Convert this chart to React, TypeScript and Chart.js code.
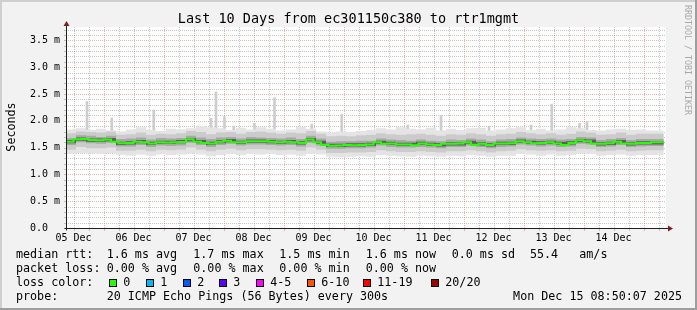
import React, { useEffect, useRef } from 'react';
import { Chart, registerables } from 'chart.js';

Chart.register(...registerables);

// Time axis in hours since 05 Dec 00:00
const START_HOUR = 9;
const END_HOUR = 249;
const DATA_END_HOUR = 248.1;

const dayLabels = ['05 Dec', '06 Dec', '07 Dec', '08 Dec', '09 Dec', '10 Dec', '11 Dec', '12 Dec', '13 Dec', '14 Dec'];
const yTickLabels = ['0.0  ', '0.5 m', '1.0 m', '1.5 m', '2.0 m', '2.5 m', '3.0 m', '3.5 m'];

// median RTT (ms), one value per 3 hours
const medianStepHours = 3;
const medianRtt = [
  1.61, 1.61, 1.655, 1.66, 1.64, 1.635, 1.65, 1.61, 1.58, 1.585,
  1.61, 1.60, 1.575, 1.60, 1.595, 1.60, 1.605, 1.655, 1.61, 1.585,
  1.575, 1.61, 1.63, 1.60, 1.60, 1.62, 1.62, 1.62, 1.61, 1.60,
  1.61, 1.60, 1.585, 1.65, 1.60, 1.55, 1.535, 1.54, 1.55, 1.545,
  1.55, 1.56, 1.60, 1.57, 1.575, 1.56, 1.56, 1.545, 1.575, 1.56,
  1.55, 1.57, 1.57, 1.575, 1.60, 1.55, 1.57, 1.55, 1.575, 1.575,
  1.58, 1.62, 1.60, 1.58, 1.585, 1.60, 1.575, 1.55, 1.585, 1.635,
  1.62, 1.57, 1.57, 1.58, 1.61, 1.575, 1.57, 1.585, 1.585, 1.60,
];

// smoke bands (ms), one value per 4 hours
const smokeStepHours = 4;
const smokeOuterHi = [
  1.80, 1.84, 1.86, 1.83, 1.85, 1.82, 1.80, 1.84, 1.88, 1.83,
  1.81, 1.85, 1.84, 1.86, 1.90, 1.88, 1.86, 1.83, 1.87, 1.84,
  1.88, 1.85, 1.82, 1.84, 1.89, 1.85, 1.80, 1.78, 1.80, 1.79,
  1.81, 1.83, 1.86, 1.84, 1.88, 1.85, 1.84, 1.87, 1.82, 1.85,
  1.83, 1.86, 1.87, 1.82, 1.84, 1.86, 1.88, 1.83, 1.85, 1.82,
  1.84, 1.88, 1.86, 1.83, 1.82, 1.84, 1.85, 1.83, 1.84, 1.82,
];
const smokeOuterLo = [
  1.39, 1.38, 1.40, 1.39, 1.38, 1.40, 1.36, 1.35, 1.37, 1.35,
  1.37, 1.36, 1.37, 1.39, 1.37, 1.34, 1.36, 1.38, 1.36, 1.38,
  1.37, 1.38, 1.36, 1.37, 1.35, 1.38, 1.37, 1.33, 1.32, 1.33,
  1.34, 1.33, 1.36, 1.35, 1.34, 1.33, 1.35, 1.34, 1.33, 1.35,
  1.34, 1.36, 1.35, 1.33, 1.35, 1.35, 1.38, 1.37, 1.35, 1.37,
  1.35, 1.36, 1.39, 1.38, 1.35, 1.36, 1.37, 1.35, 1.36, 1.36,
];
const smokeMidHi = [
  1.76, 1.77, 1.80, 1.79, 1.78, 1.80, 1.74, 1.75, 1.78, 1.74,
  1.76, 1.75, 1.77, 1.81, 1.79, 1.75, 1.78, 1.79, 1.76, 1.79,
  1.80, 1.78, 1.76, 1.78, 1.77, 1.81, 1.76, 1.71, 1.72, 1.71,
  1.73, 1.74, 1.77, 1.75, 1.74, 1.75, 1.76, 1.74, 1.72, 1.75,
  1.74, 1.77, 1.75, 1.72, 1.75, 1.76, 1.79, 1.77, 1.75, 1.77,
  1.74, 1.76, 1.80, 1.78, 1.74, 1.75, 1.78, 1.74, 1.76, 1.76,
];
const smokeMidLo = [
  1.47, 1.46, 1.51, 1.49, 1.49, 1.50, 1.44, 1.44, 1.46, 1.43,
  1.46, 1.45, 1.46, 1.50, 1.46, 1.43, 1.46, 1.48, 1.45, 1.47,
  1.47, 1.46, 1.45, 1.46, 1.44, 1.50, 1.46, 1.40, 1.40, 1.41,
  1.41, 1.42, 1.45, 1.43, 1.42, 1.42, 1.43, 1.42, 1.41, 1.43,
  1.43, 1.45, 1.43, 1.41, 1.43, 1.44, 1.47, 1.45, 1.44, 1.45,
  1.43, 1.44, 1.48, 1.47, 1.43, 1.44, 1.46, 1.43, 1.44, 1.45,
];
const smokeInnerHi = [
  1.69, 1.68, 1.73, 1.72, 1.70, 1.72, 1.66, 1.67, 1.69, 1.65,
  1.68, 1.67, 1.68, 1.72, 1.69, 1.66, 1.69, 1.70, 1.67, 1.70,
  1.69, 1.68, 1.67, 1.69, 1.66, 1.72, 1.67, 1.61, 1.62, 1.62,
  1.63, 1.63, 1.67, 1.65, 1.64, 1.63, 1.65, 1.63, 1.62, 1.65,
  1.64, 1.67, 1.65, 1.62, 1.65, 1.66, 1.69, 1.67, 1.66, 1.67,
  1.65, 1.66, 1.70, 1.69, 1.64, 1.66, 1.68, 1.64, 1.66, 1.66,
];
const smokeInnerLo = [
  1.55, 1.55, 1.60, 1.58, 1.57, 1.59, 1.52, 1.52, 1.55, 1.51,
  1.54, 1.53, 1.54, 1.59, 1.55, 1.51, 1.55, 1.57, 1.54, 1.56,
  1.56, 1.55, 1.54, 1.55, 1.52, 1.59, 1.54, 1.48, 1.48, 1.49,
  1.49, 1.50, 1.54, 1.51, 1.50, 1.50, 1.51, 1.50, 1.49, 1.51,
  1.51, 1.54, 1.51, 1.49, 1.51, 1.52, 1.56, 1.54, 1.52, 1.54,
  1.51, 1.52, 1.57, 1.56, 1.51, 1.52, 1.55, 1.51, 1.52, 1.53,
];
const smokeCoreHi = [
  1.64, 1.64, 1.69, 1.67, 1.67, 1.68, 1.61, 1.62, 1.64, 1.61,
  1.63, 1.63, 1.64, 1.68, 1.64, 1.61, 1.64, 1.66, 1.63, 1.65,
  1.65, 1.64, 1.63, 1.64, 1.62, 1.68, 1.63, 1.57, 1.57, 1.58,
  1.58, 1.59, 1.63, 1.61, 1.59, 1.59, 1.61, 1.59, 1.58, 1.60,
  1.60, 1.63, 1.60, 1.58, 1.61, 1.61, 1.65, 1.63, 1.62, 1.63,
  1.61, 1.62, 1.66, 1.65, 1.60, 1.61, 1.64, 1.60, 1.62, 1.62,
];
const smokeCoreLo = [
  1.58, 1.58, 1.63, 1.61, 1.61, 1.62, 1.55, 1.56, 1.58, 1.55,
  1.57, 1.57, 1.58, 1.62, 1.58, 1.55, 1.58, 1.60, 1.57, 1.59,
  1.59, 1.58, 1.57, 1.58, 1.56, 1.62, 1.57, 1.51, 1.51, 1.52,
  1.52, 1.53, 1.57, 1.55, 1.53, 1.53, 1.55, 1.53, 1.52, 1.54,
  1.54, 1.57, 1.54, 1.52, 1.55, 1.55, 1.59, 1.57, 1.56, 1.57,
  1.55, 1.56, 1.60, 1.59, 1.54, 1.55, 1.58, 1.54, 1.56, 1.56,
];

// outlier pings (hour, ms)
const spikeHours = [17.4, 27.3, 44.1, 67.0, 69.0, 72.4, 76.1, 84.4, 92.4, 107.3, 119.3, 145.7, 159.0, 178.2, 195.0, 203.3, 214.4, 217.4];
const spikeTops = [2.36, 2.05, 2.20, 2.05, 2.54, 2.08, 1.90, 1.95, 2.43, 1.94, 2.12, 1.92, 2.10, 1.90, 1.92, 2.31, 1.95, 1.98];
const SPIKE_BASE = 1.75;

const lossLabels = ['0', '1', '2', '3', '4-5', '6-10', '11-19', '20/20'];
const lossColors = ['#26ff00', '#00b8ff', '#0059ff', '#5e00ff', '#ff00ff', '#ff5500', '#ff0000', '#a10000'];

const TITLE = 'Last 10 Days from ec301150c380 to rtr1mgmt';

// layout constants
const LEGEND_BOX_X = [109, 146, 182.7, 219.3, 256, 307.3, 362.7, 430.7];
const MONO = '"DejaVu Sans Mono", monospace';
const MINOR = 'rgba(143,143,143,0.5)';
const MAJOR = 'rgba(222,79,79,0.42)';

function stepSeries(vals: number[], step: number) {
  const pts = vals.map((v, i) => ({ x: START_HOUR + i * step, y: v }));
  pts.push({ x: DATA_END_HOUR, y: vals[vals.length - 1] });
  return pts;
}

const rrdPlugin = {
  id: 'rrdDecor',
  beforeDraw(chart: any) {
    const { ctx, chartArea: a, width, height } = chart;
    ctx.save();
    ctx.fillStyle = '#f2f2f2';
    ctx.fillRect(0, 0, width, height);
    ctx.fillStyle = '#cfcfcf';
    ctx.fillRect(0, 0, width, 2);
    ctx.fillRect(0, 0, 2, height);
    ctx.fillStyle = '#9e9e9e';
    ctx.fillRect(0, height - 2, width, 2);
    ctx.fillRect(width - 2, 0, 2, height);
    ctx.fillStyle = '#ffffff';
    ctx.fillRect(a.left, a.top, a.right - a.left, a.bottom - a.top);
    ctx.restore();
  },
  beforeDatasetsDraw(chart: any) {
    const { ctx, chartArea: a } = chart;
    const xs = chart.scales.x;
    const ys = chart.scales.y;
    ctx.save();
    ctx.lineWidth = 1;
    xs.ticks.forEach((t: any) => {
      const px = Math.round(xs.getPixelForValue(t.value)) + 0.5;
      ctx.strokeStyle = t.value % 24 === 0 ? MAJOR : MINOR;
      ctx.setLineDash([1, 1]);
      ctx.beginPath();
      ctx.moveTo(px, a.top);
      ctx.lineTo(px, a.bottom);
      ctx.stroke();
      ctx.setLineDash([]);
      ctx.beginPath();
      ctx.moveTo(px, a.bottom);
      ctx.lineTo(px, a.bottom + 3);
      ctx.stroke();
    });
    ys.ticks.forEach((t: any, i: number) => {
      const py = Math.round(ys.getPixelForValue(t.value)) + 0.5;
      ctx.strokeStyle = i % 5 === 0 ? MAJOR : MINOR;
      ctx.setLineDash([1, 1]);
      ctx.beginPath();
      ctx.moveTo(a.left, py);
      ctx.lineTo(a.right, py);
      ctx.stroke();
      ctx.setLineDash([]);
      ctx.beginPath();
      ctx.moveTo(a.left - 2, py);
      ctx.lineTo(a.left, py);
      ctx.stroke();
    });
    ctx.restore();
  },
  afterDraw(chart: any) {
    const { ctx, chartArea: a } = chart;
    ctx.save();
    // axes
    const ax = Math.round(a.left) + 0.5;
    const ay = Math.round(a.bottom) + 0.5;
    ctx.strokeStyle = '#1f1f1f';
    ctx.lineWidth = 1;
    ctx.beginPath();
    ctx.moveTo(ax, ay + 2);
    ctx.lineTo(ax, a.top - 2);
    ctx.moveTo(ax - 2, ay);
    ctx.lineTo(a.right + 3, ay);
    ctx.stroke();
    ctx.fillStyle = '#801f1f';
    ctx.beginPath();
    ctx.moveTo(ax, a.top - 6);
    ctx.lineTo(ax - 3, a.top - 1);
    ctx.lineTo(ax + 3, a.top - 1);
    ctx.closePath();
    ctx.fill();
    ctx.beginPath();
    ctx.moveTo(a.right + 7, ay);
    ctx.lineTo(a.right + 2, ay - 3);
    ctx.lineTo(a.right + 2, ay + 3);
    ctx.closePath();
    ctx.fill();

    // title
    ctx.fillStyle = '#000';
    ctx.textBaseline = 'alphabetic';
    ctx.textAlign = 'center';
    ctx.font = `13.5px ${MONO}`;
    ctx.fillText(TITLE, 348.5, 23);

    // y title
    ctx.font = `11.7px ${MONO}`;
    ctx.save();
    ctx.translate(15, 127);
    ctx.rotate(-Math.PI / 2);
    ctx.fillText('Seconds', 0, 0);
    ctx.restore();

    // watermark
    ctx.save();
    ctx.fillStyle = '#a8a8a8';
    ctx.font = `8.3px ${MONO}`;
    ctx.textAlign = 'left';
    ctx.translate(684.5, 5);
    ctx.rotate(Math.PI / 2);
    ctx.fillText('RRDTOOL / TOBI OETIKER', 0, 0);
    ctx.restore();

    // legend
    ctx.textAlign = 'left';
    ctx.font = `11.7px ${MONO}`;
    const rows: [number, number, string][] = [
      [16, 258, 'median rtt:'], [106.7, 258, '1.6 ms avg'], [193.3, 258, '1.7 ms max'],
      [279.3, 258, '1.5 ms min'], [365.7, 258, '1.6 ms now'], [451.7, 258, '0.0 ms sd'],
      [530, 258, '55.4'], [579.3, 258, 'am/s'],
      [16, 272, 'packet loss:'], [106.7, 272, '0.00 % avg'], [193.3, 272, '0.00 % max'],
      [279.3, 272, '0.00 % min'], [365.7, 272, '0.00 % now'],
      [16, 286, 'loss color:'],
      [16, 300, 'probe:'], [106.7, 300, '20 ICMP Echo Pings (56 Bytes) every 300s'],
    ];
    rows.forEach(([x, y, t]) => ctx.fillText(t, x, y));
    ctx.textAlign = 'right';
    ctx.fillText('Mon Dec 15 08:50:07 2025', 682, 300);
    ctx.textAlign = 'left';
    lossLabels.forEach((lab, i) => {
      const bx = Math.round(LEGEND_BOX_X[i]);
      ctx.fillStyle = lossColors[i];
      ctx.fillRect(bx, 279, 8, 8);
      ctx.strokeStyle = '#000';
      ctx.lineWidth = 1;
      ctx.strokeRect(bx + 0.5, 279.5, 7, 7);
      ctx.fillStyle = '#000';
      ctx.fillText(lab, bx + 14.3, 286);
    });
    ctx.restore();
  },
};

const band = (vals: number[], color: string, target: number | false) => ({
  type: 'line' as const,
  data: stepSeries(vals, smokeStepHours),
  stepped: 'after' as const,
  borderColor: 'rgba(0,0,0,0)',
  borderWidth: 1,
  backgroundColor: color,
  fill: target,
  pointRadius: 0,
});

export default function App() {
  const ref = useRef<HTMLCanvasElement>(null);
  useEffect(() => {
    document.body.style.margin = '0';
    const xTicks: number[] = [];
    for (let h = 12; h < END_HOUR; h += 6) xTicks.push(h);
    const yTicks: number[] = [];
    for (let i = 0; i <= 37; i++) yTicks.push(i / 10);

    const chart = new Chart(ref.current as HTMLCanvasElement, {
      type: 'line',
      data: {
        datasets: [
          {
            type: 'line',
            data: stepSeries(medianRtt, medianStepHours),
            stepped: 'after',
            borderColor: lossColors[0],
            borderWidth: 2,
            pointRadius: 0,
            fill: false,
          },
          band(smokeCoreHi, '#5e5e5e', 2),
          band(smokeCoreLo, 'rgba(0,0,0,0)', false),
          band(smokeInnerHi, '#a8a8a8', 4),
          band(smokeInnerLo, 'rgba(0,0,0,0)', false),
          band(smokeMidHi, '#cbcbcb', 6),
          band(smokeMidLo, 'rgba(0,0,0,0)', false),
          band(smokeOuterHi, '#e4e4e4', 8),
          band(smokeOuterLo, 'rgba(0,0,0,0)', false),
          {
            type: 'bar',
            data: spikeHours.map((h, i) => ({ x: h, y: [SPIKE_BASE, spikeTops[i]] })),
            backgroundColor: '#cdcdcd',
            borderWidth: 0,
            barThickness: 2,
            grouped: false,
          } as any,
        ],
      },
      options: {
        responsive: false,
        devicePixelRatio: 1,
        animation: false,
        events: [],
        layout: { padding: { left: 0, top: 27, right: 31, bottom: 62 } },
        plugins: { legend: { display: false }, title: { display: false }, tooltip: { enabled: false } },
        scales: {
          x: {
            type: 'linear',
            min: START_HOUR,
            max: END_HOUR,
            offset: false,
            afterFit: (s: any) => { s.height = 20; },
            afterBuildTicks: (s: any) => { s.ticks = xTicks.map((v) => ({ value: v })); },
            grid: { display: false, drawTicks: false },
            border: { display: false },
            ticks: {
              autoSkip: false,
              maxRotation: 0,
              padding: 4,
              color: '#000',
              font: { family: 'DejaVu Sans Mono', size: 10 },
              callback: (v: any) => {
                const h = Number(v);
                return (h - 12) % 24 === 0 ? dayLabels[(h - 12) / 24] : '';
              },
            },
          },
          y: {
            type: 'linear',
            min: 0,
            max: 3.75,
            afterFit: (s: any) => { s.width = 66; },
            afterBuildTicks: (s: any) => { s.ticks = yTicks.map((v) => ({ value: v })); },
            grid: { display: false, drawTicks: false },
            border: { display: false },
            ticks: {
              autoSkip: false,
              padding: 6,
              color: '#000',
              font: { family: 'DejaVu Sans Mono', size: 10 },
              callback: (_v: any, i: number) => (i % 5 === 0 ? yTickLabels[i / 5] : ''),
            },
          },
        },
      },
      plugins: [rrdPlugin],
    } as any);
    return () => chart.destroy();
  }, []);
  return (
    <div style={{ width: 697, height: 310 }}>
      <canvas ref={ref} width={697} height={310} style={{ display: 'block', width: 697, height: 310 }} />
    </div>
  );
}
